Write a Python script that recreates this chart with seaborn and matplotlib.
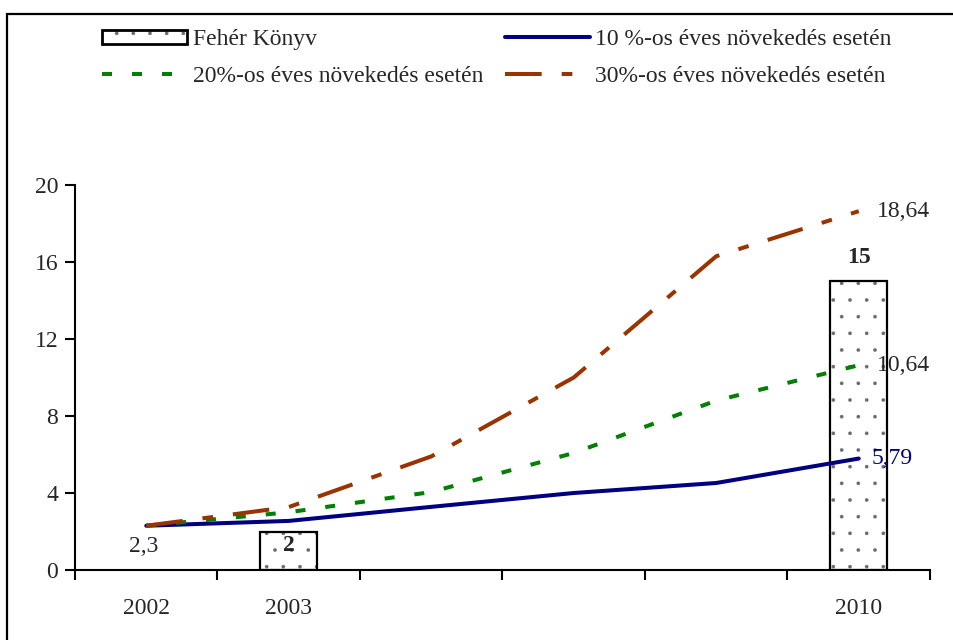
import numpy as np
import pandas as pd
import matplotlib
matplotlib.use("Agg")
import matplotlib.pyplot as plt
import seaborn as sns
from matplotlib.patches import Patch, Rectangle
from matplotlib.lines import Line2D
from matplotlib.legend_handler import HandlerPatch

# ---- data ----
tick_labels = ["2002", "2003", "", "", "", "2010"]
feher_konyv = [np.nan, 2, np.nan, np.nan, np.nan, 15]
growth10 = [2.3, 2.55, 3.28, 4.0, 4.52, 5.79]
growth20 = [2.3, 3.0, 4.05, 6.08, 8.8, 10.64]
growth30 = [2.3, 3.27, 5.9, 10.0, 16.3, 18.64]
series_names = ["Fehér Könyv", "10 %-os éves növekedés esetén",
                "20%-os éves növekedés esetén", "30%-os éves növekedés esetén"]

sns.set_theme(style="white")
plt.rcParams['font.family'] = ['Liberation Serif', 'DejaVu Serif']
plt.rcParams['lines.scale_dashes'] = False
plt.rcParams['hatch.linewidth'] = 0.2

FS = 17
LW = 2.9
pos = list(range(len(tick_labels)))
df = pd.DataFrame({"pos": pos, "bar": feher_konyv,
                   "g10": growth10, "g20": growth20, "g30": growth30})

fig = plt.figure(figsize=(9.54, 6.4), dpi=100)
ax = fig.add_axes([75/954, 70/640, 855/954, 385/640])

sns.barplot(data=df, x="pos", y="bar", ax=ax, width=0.4, color="white",
            errorbar=None, linewidth=0, zorder=2)
hatch_grey = "#6a6a6a"
for p in list(ax.patches):
    p.set_hatch('.')
    p.set_facecolor('white')
    p.set_edgecolor(hatch_grey)
    p.set_linewidth(0)
    if np.isfinite(p.get_height()) and p.get_height() > 0:
        ax.add_patch(Rectangle((p.get_x(), p.get_y()), p.get_width(), p.get_height(),
                               fill=False, edgecolor='black', linewidth=1.6, zorder=2.5))

navy = "#000080"
green = "#008000"
brown = "#993300"
dash20 = (0, (7.2, 14.4))
dash30 = (0, (26.4, 14.4, 7.7, 14.4))
sns.lineplot(data=df, x="pos", y="g10", ax=ax, color=navy, lw=LW, zorder=3)
sns.lineplot(data=df, x="pos", y="g20", ax=ax, color=green, lw=LW, zorder=3)
ax.lines[-1].set_linestyle(dash20)
sns.lineplot(data=df, x="pos", y="g30", ax=ax, color=brown, lw=LW, zorder=3)
ax.lines[-1].set_linestyle(dash30)

ax.set_xlim(-0.5, 5.5)
ax.set_ylim(0, 20)
ax.set_xlabel("")
ax.set_ylabel("")
ax.set_xticks(np.arange(-0.5, 6.0, 1.0))
ax.set_xticklabels([])
ax.set_xticks(pos, minor=True)
ax.set_xticklabels(tick_labels, minor=True, fontsize=FS)
ax.tick_params(axis='x', which='minor', length=0, pad=20)
ax.tick_params(axis='x', which='major', length=7, width=1.5, direction='out', color='black', bottom=True)
ax.set_yticks([0, 4, 8, 12, 16, 20])
ax.tick_params(axis='y', length=7, width=1.5, direction='out', color='black', left=True, labelsize=FS, pad=5)
for s in ['top', 'right']:
    ax.spines[s].set_visible(False)
for s in ['left', 'bottom']:
    ax.spines[s].set_color('black')
    ax.spines[s].set_linewidth(1.5)
ax.grid(False)

# annotations
ax.annotate("2,3", (0, growth10[0]), xytext=(-2, -15), textcoords='offset points',
            ha='center', va='center', fontsize=FS)
ax.annotate("2", (1, feher_konyv[1]), xytext=(0, -10), textcoords='offset points',
            ha='center', va='center', fontsize=FS, fontweight='bold')
ax.annotate("15", (5, feher_konyv[5]), xytext=(0, 17), textcoords='offset points',
            ha='center', va='center', fontsize=FS, fontweight='bold')
ax.annotate("18,64", (5, growth30[5]), xytext=(13, 0), textcoords='offset points',
            ha='left', va='center', fontsize=FS)
ax.annotate("10,64", (5, growth20[5]), xytext=(13, 0), textcoords='offset points',
            ha='left', va='center', fontsize=FS)
ax.annotate("5,79", (5, growth10[5]), xytext=(9, 0), textcoords='offset points',
            ha='left', va='center', fontsize=FS, color=navy)


class BarHandler(HandlerPatch):
    def create_artists(self, legend, orig_handle, xdescent, ydescent,
                       width, height, fontsize, trans):
        back = Rectangle((-xdescent, -ydescent), width, height, facecolor='white',
                         edgecolor=hatch_grey, hatch='.', linewidth=0, transform=trans)
        frame = Rectangle((-xdescent, -ydescent), width, height, fill=False,
                          edgecolor='black', linewidth=2.0, transform=trans)
        return [back, frame]


# legend
h_bar = Patch(facecolor='white', edgecolor='black', hatch='.', linewidth=2)
h10 = Line2D([], [], color=navy, lw=LW)
h20 = Line2D([], [], color=green, lw=LW, linestyle=dash20)
h30 = Line2D([], [], color=brown, lw=LW, linestyle=dash30)
fig.legend([h_bar, h20, h10, h30],
           [series_names[0], series_names[2], series_names[1], series_names[3]],
           ncol=2, loc='upper left', bbox_to_anchor=(102/954, 1 - 29/640),
           frameon=False, fontsize=FS, handlelength=3.6, handleheight=0.55,
           handletextpad=0.25, columnspacing=0.9, labelspacing=0.68,
           borderaxespad=0, borderpad=0, handler_map={Patch: BarHandler()})

# outer frame
fig.patches.append(Rectangle((7/954, -0.05), 1.1, 1 - 14/640 + 0.05,
                             transform=fig.transFigure, fill=False,
                             edgecolor='black', linewidth=1.6))

fig.savefig("out.png", dpi=100)
